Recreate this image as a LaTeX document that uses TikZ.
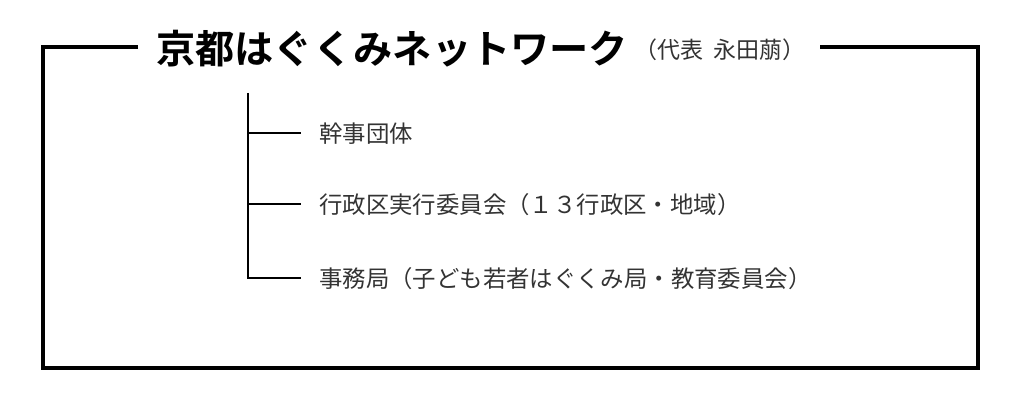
\documentclass[tikz,border=0pt]{standalone}
\usepackage{fontspec}
\newfontfamily\jp{Noto Sans CJK JP}
\newfontfamily\jpbold{Noto Sans CJK JP Bold}
\definecolor{bodygray}{HTML}{333333}
\begin{document}
\begin{tikzpicture}[x=1pt,y=-1pt,
  frame/.style={line width=4pt,line join=miter,black},
  treeline/.style={line width=2.2pt,black},
  titletext/.style={font=\jpbold\fontsize{39.2}{39.2}\selectfont,inner sep=0pt,anchor=west},
  subtext/.style={font=\jp\fontsize{23}{23}\selectfont,text=bodygray,inner sep=0pt,anchor=west},
  itemtext/.style={font=\jp\fontsize{23.4}{23.4}\selectfont,text=bodygray,inner sep=0pt,anchor=west}]
\useasboundingbox (0,0) rectangle (1024,403);
% title and subtitle
\node[titletext] (title) at (156,49) {京都はぐくみネットワーク};
\node[subtext] (sub) at (634,50) {（代表\hspace{10pt}永田萠）};
% frame
\coordinate (tl1) at (138,47);
\coordinate (tl) at (43,47);
\coordinate (bl) at (43,368);
\coordinate (br) at (978,368);
\coordinate (tr) at (978,47);
\coordinate (tr1) at (820,47);
\draw[frame] (tl1) -- (tl) -- (bl) -- (br) -- (tr) -- (tr1);
% tree items
\node[itemtext] (n1) at (319,134) {幹事団体};
\node[itemtext] (n2) at (319,205) {行政区実行委員会（１３行政区・地域）};
\node[itemtext] (n3) at (319,279) {事務局（子ども若者はぐくみ局・教育委員会）};
\coordinate (trunk) at (248,93);
\coordinate (b1) at (301,133);
\coordinate (b2) at (301,204);
\coordinate (b3) at (301,278);
\draw[treeline] (trunk) -- (trunk |- b3) -- (b3);
\draw[treeline] (trunk |- b1) -- (b1);
\draw[treeline] (trunk |- b2) -- (b2);
\end{tikzpicture}
\end{document}
